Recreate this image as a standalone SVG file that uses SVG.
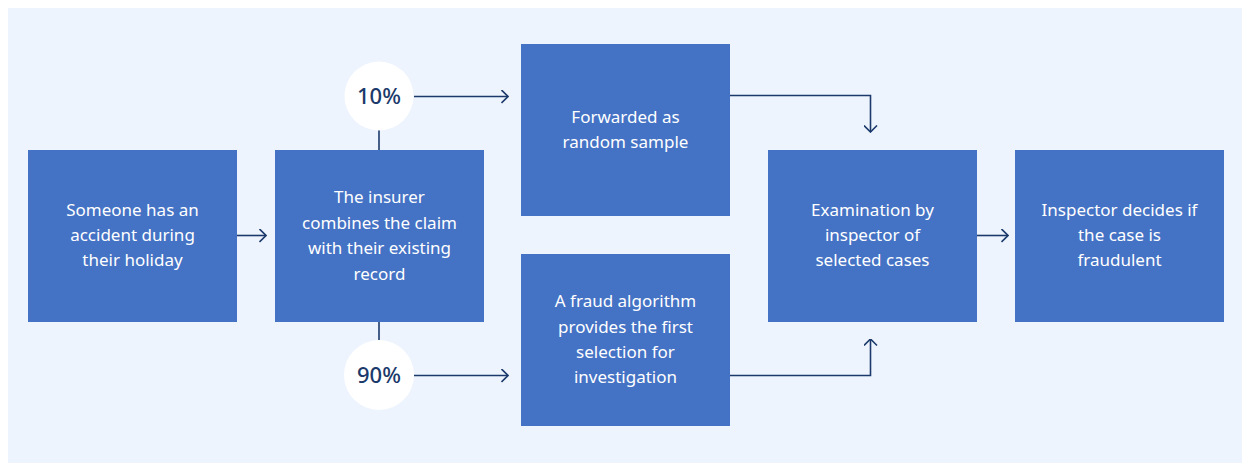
<svg xmlns="http://www.w3.org/2000/svg" width="1250" height="463" viewBox="0 0 1250 463">
  <style>
    .box { fill: #4472C4; }
    .label { font-family: "Noto Sans", "Liberation Sans", sans-serif; font-size: 17px; fill: #FFFFFF; text-anchor: middle; }
    .pct { font-family: "Noto Sans", "Liberation Sans", sans-serif; font-size: 22px; font-weight: 500; fill: #1B3A6B; text-anchor: middle; }
    .bubble { fill: #FFFFFF; }
    .wire { fill: none; stroke: #1B3A6B; stroke-width: 1.6; }
  </style>
  <defs>
    <marker id="chevron" viewBox="0 0 8 14" refX="7.5" refY="7" markerWidth="8" markerHeight="14" markerUnits="userSpaceOnUse" orient="auto">
      <path d="M1,0.5 L7.5,7 L1,13.5" fill="none" stroke="#1B3A6B" stroke-width="1.6"/>
    </marker>
  </defs>

  <!-- backdrop -->
  <rect x="0" y="0" width="1250" height="463" fill="#FFFFFF"/>
  <rect x="8" y="8" width="1234" height="455" fill="#EEF4FE"/>

  <!-- connectors -->
  <g id="connectors">
    <path class="wire" d="M237,235.5 H266" marker-end="url(#chevron)"/>
    <path class="wire" d="M379,130 V150"/>
    <path class="wire" d="M379,322 V340"/>
    <path class="wire" d="M414,96.5 H508" marker-end="url(#chevron)"/>
    <path class="wire" d="M414,375.5 H508" marker-end="url(#chevron)"/>
    <path class="wire" d="M730,95.5 H870.5 V132" marker-end="url(#chevron)"/>
    <path class="wire" d="M730,375.5 H870.5 V339" marker-end="url(#chevron)"/>
    <path class="wire" d="M977,235.5 H1008" marker-end="url(#chevron)"/>
  </g>

  <g id="accident">
    <rect class="box" x="28" y="150" width="209" height="172"/>
    <text class="label" x="132.5" y="216">Someone has an</text>
    <text class="label" x="132.5" y="241">accident during</text>
    <text class="label" x="132.5" y="266">their holiday</text>
  </g>

  <g id="insurer">
    <rect class="box" x="275" y="150" width="209" height="172"/>
    <text class="label" x="379.5" y="203">The insurer</text>
    <text class="label" x="379.5" y="228.5">combines the claim</text>
    <text class="label" x="379.5" y="254">with their existing</text>
    <text class="label" x="379.5" y="279.5">record</text>
  </g>

  <g id="share-10">
    <circle class="bubble" cx="379" cy="96" r="34.5"/>
    <text class="pct" x="379" y="104">10%</text>
  </g>

  <g id="share-90">
    <circle class="bubble" cx="379" cy="375" r="35"/>
    <text class="pct" x="379" y="383">90%</text>
  </g>

  <g id="random-sample">
    <rect class="box" x="521" y="44" width="209" height="172"/>
    <text class="label" x="625.5" y="123">Forwarded as</text>
    <text class="label" x="625.5" y="148">random sample</text>
  </g>

  <g id="fraud-algorithm">
    <rect class="box" x="521" y="254" width="209" height="172"/>
    <text class="label" x="625.5" y="307">A fraud algorithm</text>
    <text class="label" x="625.5" y="332.5">provides the first</text>
    <text class="label" x="625.5" y="358">selection for</text>
    <text class="label" x="625.5" y="383">investigation</text>
  </g>

  <g id="examination">
    <rect class="box" x="768" y="150" width="209" height="172"/>
    <text class="label" x="872.5" y="216">Examination by</text>
    <text class="label" x="872.5" y="241">inspector of</text>
    <text class="label" x="872.5" y="266">selected cases</text>
  </g>

  <g id="decision">
    <rect class="box" x="1015" y="150" width="209" height="172"/>
    <text class="label" x="1119.5" y="216">Inspector decides if</text>
    <text class="label" x="1119.5" y="241">the case is</text>
    <text class="label" x="1119.5" y="266">fraudulent</text>
  </g>
</svg>
